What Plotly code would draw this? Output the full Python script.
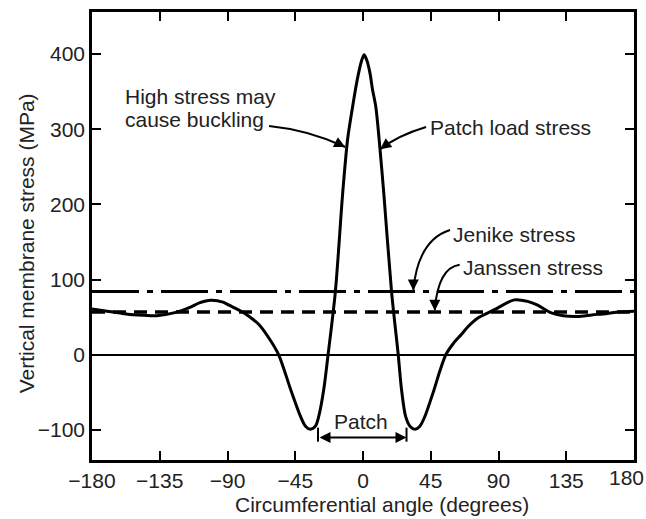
import plotly.graph_objects as go

# ---- data ----
angle_deg = [-180, -170, -160, -150, -137, -125, -115, -108.7, -101, -93, -89, -80, -75.6,
             -69, -62.4, -56, -48, -41.5, -38.2, -35, -31.6, -29.4, -26.1, -23.2, -18.4,
             -13.5, -10.2, -6.9, -5, -3, -0.8, 0.8, 2.5, 4.7, 6.3, 8.5, 10.7,
             13.8, 19, 23.4, 25.6, 28.3, 31.2, 34.5, 37.8, 41.1, 47.2, 51, 55, 60, 65.3,
             70, 76.3, 87.3, 100.5, 109.3, 116, 124.7, 133, 142.3, 152, 162.1, 170, 180]
patch_stress = [61, 58, 55, 53, 52, 56, 63, 69, 72.5, 70, 66, 57, 51,
                40, 22, 0, -46.5, -82, -95, -99, -95, -82, -46.5, 0, 83,
                215, 287, 330, 353, 374, 392, 399, 392, 374, 353, 330, 287,
                215, 83, 0, -46.5, -82, -95, -99, -95, -82, -46.5, -22, 0, 15, 27,
                38, 49, 60, 73, 71, 66, 56, 52, 51, 53, 55, 57, 58]
jenike_stress = 84
janssen_stress = 57
x_ticks = [-180, -135, -90, -45, 0, 45, 90, 135, 180]
x_tick_text = ["\u2212180", "\u2212135", "\u221290", "\u221245", "0", "45", "90", "135", ""]
y_ticks = [-100, 0, 100, 200, 300, 400]
patch_range = [-29.9, 28.9]

FONT = "Liberation Sans, Arial, Helvetica, sans-serif"
TXT = "#222222"
FS = 21

fig = go.Figure()

fig.add_trace(go.Scatter(x=[-180, 180], y=[jenike_stress, jenike_stress], mode="lines",
                         line=dict(color="black", width=3, dash="47px,8px,6px,8px"),
                         hoverinfo="skip", showlegend=False))
fig.add_trace(go.Scatter(x=[-180, 180], y=[janssen_stress, janssen_stress], mode="lines",
                         line=dict(color="black", width=3.5, dash="13px,8px"),
                         hoverinfo="skip", showlegend=False))
fig.add_trace(go.Scatter(x=angle_deg, y=patch_stress, mode="lines",
                         line=dict(color="black", width=3, shape="spline", smoothing=0.8),
                         showlegend=False))

# curved leader lines
def curve(x0, y0, cx, cy, x1, y1):
    fig.add_shape(type="path", xref="x", yref="y",
                  path=f"M {x0},{y0} Q {cx},{cy} {x1},{y1}",
                  line=dict(color="black", width=2))

def head(x, y, ax, ay):
    fig.add_annotation(x=x, y=y, xref="x", yref="y", ax=ax, ay=ay, text="",
                       showarrow=True, arrowhead=2, arrowsize=1.1, arrowwidth=2,
                       arrowcolor="black")

# High stress may cause buckling
curve(-62.4, 304.3, -36, 299, -11.8, 276.4)
head(-11.8, 276.4, -10, -5)
# Patch load stress
curve(41.9, 303, 23.4, 292, 11.4, 273.4)
head(11.4, 273.4, 8, -6)
# Jenike stress
curve(57.8, 166, 36.7, 152.8, 33.4, 86.4)
head(33.4, 85.5, 0, -11)
# Janssen stress
curve(64.2, 119.6, 49.9, 115.6, 47.7, 59.8)
head(47.7, 58.5, 0, -11)

# Patch bracket
fig.add_annotation(x=patch_range[1], y=-110, ax=patch_range[0], ay=-110, axref="x", ayref="y",
                   xref="x", yref="y", text="", showarrow=True, arrowside="end+start",
                   arrowhead=2, arrowsize=1.1, arrowwidth=2, arrowcolor="black")
for px in patch_range:
    fig.add_shape(type="line", xref="x", yref="y", x0=px, x1=px, y0=-97, y1=-115.6,
                  line=dict(color="black", width=2))

def label(x, y, text, anchor="left"):
    fig.add_annotation(x=x, y=y, xref="x", yref="y", text=text, showarrow=False,
                       xanchor=anchor, yanchor="middle",
                       font=dict(family=FONT, size=FS, color=TXT))

label(-159.5, 343, "High stress may")
label(-159.5, 312.5, "cause buckling")
label(43.3, 301.7, "Patch load stress")
label(58.5, 159.6, "Jenike stress")
label(65, 115.6, "Janssen stress")
label(-1.5, -89, "Patch", anchor="center")

# last x tick label (sits against the right edge in the reference)
fig.add_annotation(x=0.987, y=-0.0395, xref="paper", yref="paper", text="180",
                   showarrow=False, xanchor="center", yanchor="middle",
                   font=dict(family=FONT, size=FS, color=TXT))

# axis titles
fig.add_annotation(x=0.5358, y=-0.1004, xref="paper", yref="paper",
                   text="Circumferential angle (degrees)", showarrow=False,
                   xanchor="center", yanchor="middle",
                   font=dict(family=FONT, size=FS, color=TXT))
fig.add_annotation(x=-0.1193, y=0.4844, xref="paper", yref="paper",
                   text="Vertical membrane stress (MPa)", showarrow=False, textangle=-90,
                   xanchor="center", yanchor="middle",
                   font=dict(family=FONT, size=FS, color=TXT))

fig.update_layout(
    width=646, height=519,
    margin=dict(l=92, r=9, t=12, b=59),
    paper_bgcolor="white", plot_bgcolor="white",
    font=dict(family=FONT, size=FS, color=TXT),
    showlegend=False,
    xaxis=dict(range=[-180, 180], tickvals=x_ticks, ticktext=x_tick_text,
               ticks="inside", ticklen=9, tickwidth=2,
               tickcolor="black", showline=True, linecolor="black", linewidth=2.5,
               mirror="ticks", showgrid=False, zeroline=False,
               tickfont=dict(family=FONT, size=FS, color=TXT)),
    yaxis=dict(range=[-140, 456], tickvals=y_ticks, ticks="inside", ticklen=9, tickwidth=2,
               tickcolor="black", showline=True, linecolor="black", linewidth=2.5,
               mirror="ticks", showgrid=False, zeroline=True, zerolinecolor="black",
               zerolinewidth=1.5, tickfont=dict(family=FONT, size=FS, color=TXT)),
)

fig.write_html("out.html")
